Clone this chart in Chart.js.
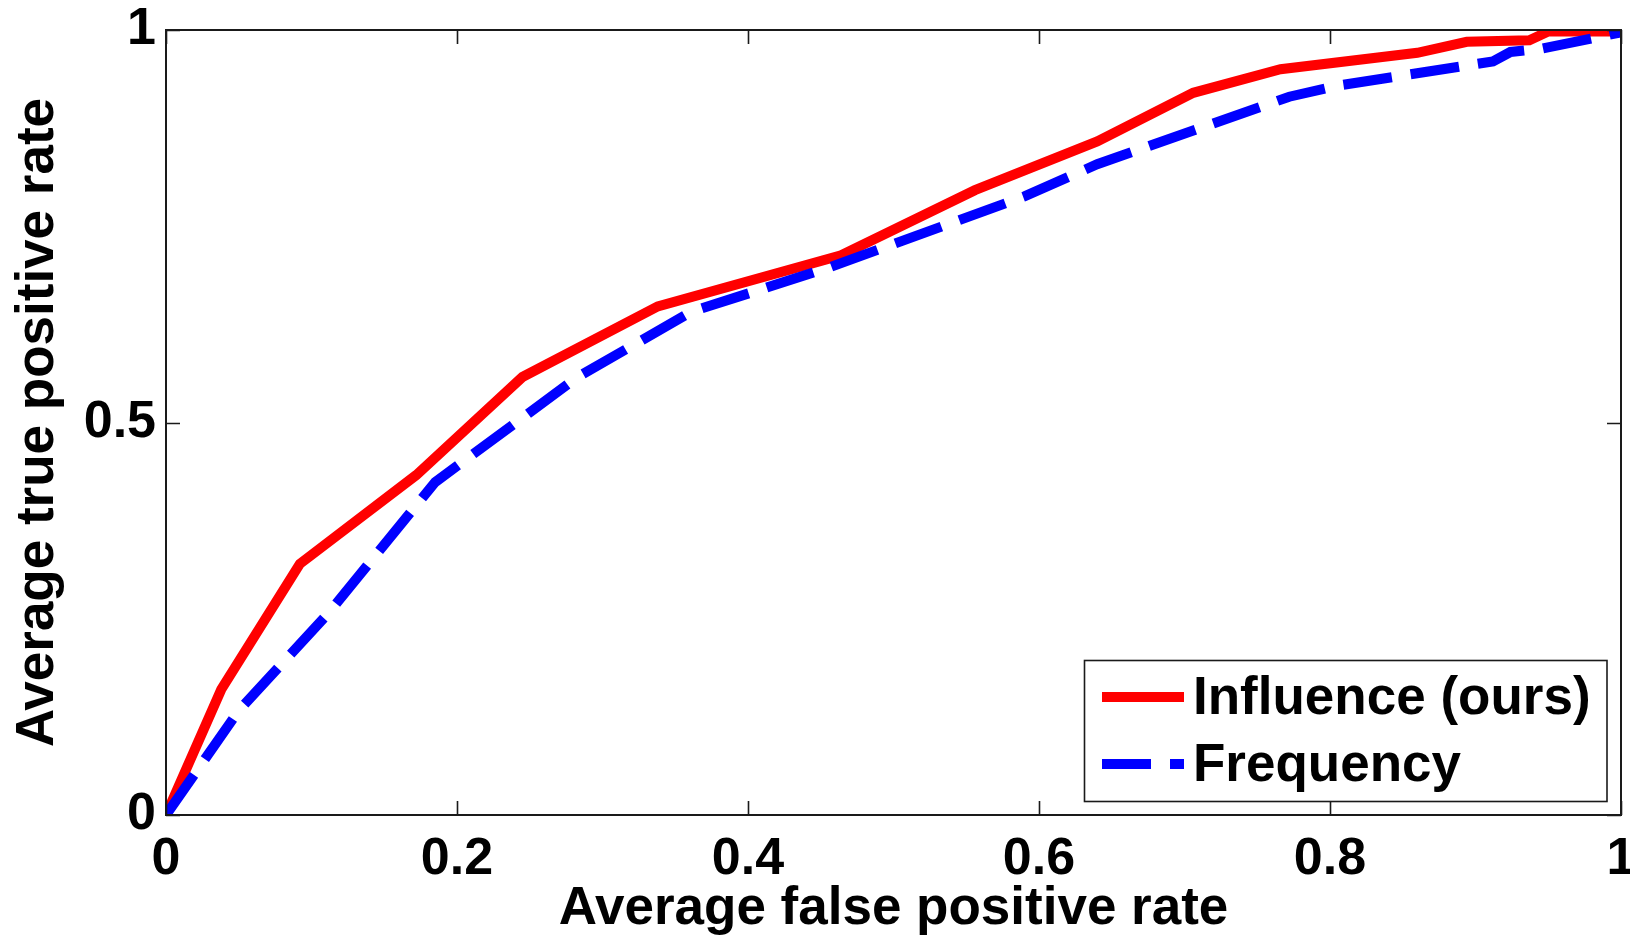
<!DOCTYPE html>
<html>
<head>
<meta charset="utf-8">
<script src="https://cdn.jsdelivr.net/npm/chart.js@4"></script>
<style>
html,body{margin:0;padding:0;background:#ffffff;}
#wrap{position:relative;width:1630px;height:941px;}
canvas{display:block;}
</style>
</head>
<body>
<div id="wrap"><canvas id="c" width="1630" height="941"></canvas></div>
<script>
// ---- data ----
const influenceFPR = [0, 0.038, 0.092, 0.172, 0.245, 0.338, 0.464, 0.556, 0.640, 0.706, 0.766, 0.860, 0.894, 0.937, 0.950, 1.0];
const influenceTPR = [0, 0.160, 0.320, 0.433, 0.558, 0.648, 0.713, 0.796, 0.858, 0.920, 0.950, 0.971, 0.985, 0.987, 0.998, 0.998];
const frequencyFPR = [0, 0.050, 0.112, 0.185, 0.283, 0.361, 0.455, 0.590, 0.640, 0.772, 0.805, 0.912, 0.924, 0.945, 1.0];
const frequencyTPR = [0, 0.133, 0.258, 0.424, 0.558, 0.641, 0.697, 0.788, 0.829, 0.915, 0.929, 0.960, 0.972, 0.976, 0.997];
const seriesLabels = ['Influence (ours)', 'Frequency'];
const seriesColors = ['#ff0000', '#0000ff'];
const xTickValues = [0, 0.2, 0.4, 0.6, 0.8, 1];
const yTickValues = [0, 0.5, 1];
const xTitle = 'Average false positive rate';
const yTitle = 'Average true positive rate';

const FONT = '"Liberation Sans", Arial, Helvetica, sans-serif';
const DASH = [49, 19];
const LINE_W = 10;

function toPoints(xs, ys) { return xs.map((x, i) => ({x: x, y: ys[i]})); }

// axes box + inward tick marks (MATLAB style), drawn through the chart's scales
const boxPlugin = {
  id: 'boxTicks',
  afterDatasetsDraw(chart) {
    const {ctx, chartArea: a, scales} = chart;
    ctx.save();
    ctx.strokeStyle = '#1a1a1a';
    ctx.lineWidth = 1.6;
    ctx.lineCap = 'butt';
    ctx.beginPath();
    const tl = 14;
    xTickValues.forEach(v => {
      const px = Math.round(scales.x.getPixelForValue(v)) + 0.5;
      ctx.moveTo(px, a.bottom); ctx.lineTo(px, a.bottom - tl);
      ctx.moveTo(px, a.top); ctx.lineTo(px, a.top + tl);
    });
    yTickValues.forEach(v => {
      const py = Math.round(scales.y.getPixelForValue(v)) + 0.5;
      ctx.moveTo(a.left, py); ctx.lineTo(a.left + tl, py);
      ctx.moveTo(a.right, py); ctx.lineTo(a.right - tl, py);
    });
    ctx.stroke();
    ctx.lineWidth = 2;
    ctx.strokeRect(a.left, a.top, a.right - a.left, a.bottom - a.top);
    ctx.restore();
  }
};

// legend box in the lower-right corner of the plot area
const legendPlugin = {
  id: 'boxedLegend',
  afterDraw(chart) {
    const {ctx, chartArea: a} = chart;
    const bx = 1084.5, by = 660.5, bw = a.right - 14 - bx, bh = 141;
    ctx.save();
    ctx.fillStyle = '#ffffff';
    ctx.fillRect(bx, by, bw, bh);
    ctx.strokeStyle = '#1a1a1a';
    ctx.lineWidth = 1.6;
    ctx.strokeRect(bx, by, bw, bh);
    const rows = [697, 764];
    chart.data.datasets.forEach((ds, i) => {
      const y = rows[i];
      ctx.beginPath();
      ctx.strokeStyle = ds.borderColor;
      ctx.lineWidth = LINE_W;
      ctx.lineCap = 'butt';
      ctx.setLineDash(ds.borderDash || []);
      ctx.moveTo(1102, y);
      ctx.lineTo(1184, y);
      ctx.stroke();
      ctx.setLineDash([]);
      ctx.fillStyle = '#000000';
      ctx.font = 'bold 53px ' + FONT;
      ctx.textBaseline = 'middle';
      ctx.textAlign = 'left';
      ctx.fillText(ds.label, 1193, y + 2);
    });
    ctx.restore();
  }
};

new Chart(document.getElementById('c'), {
  type: 'scatter',
  data: {
    datasets: [
      {
        label: seriesLabels[0],
        data: toPoints(influenceFPR, influenceTPR),
        showLine: true,
        borderColor: seriesColors[0],
        backgroundColor: seriesColors[0],
        borderWidth: LINE_W,
        borderJoinStyle: 'miter',
        borderCapStyle: 'butt',
        pointRadius: 0,
        pointHoverRadius: 0,
        tension: 0,
        clip: 0,
        order: 2
      },
      {
        label: seriesLabels[1],
        data: toPoints(frequencyFPR, frequencyTPR),
        showLine: true,
        borderColor: seriesColors[1],
        backgroundColor: seriesColors[1],
        borderWidth: LINE_W,
        borderDash: DASH,
        borderJoinStyle: 'miter',
        borderCapStyle: 'butt',
        pointRadius: 0,
        pointHoverRadius: 0,
        tension: 0,
        clip: 0,
        order: 1
      }
    ]
  },
  options: {
    responsive: false,
    devicePixelRatio: 1,
    animation: false,
    events: [],
    layout: {padding: {left: 0, top: 30, right: 9, bottom: 0}},
    plugins: {legend: {display: false}, tooltip: {enabled: false}},
    scales: {
      x: {
        type: 'linear', min: 0, max: 1,
        afterBuildTicks(scale) { scale.ticks = xTickValues.map(v => ({value: v})); },
        afterFit(scale) { scale.height = 126; scale.paddingLeft = 0; scale.paddingRight = 0; },
        grid: {display: false, drawTicks: false},
        border: {display: false},
        ticks: {
          color: '#000000', padding: 13, maxRotation: 0, autoSkip: false,
          font: {family: FONT, size: 52, weight: 'bold'},
          callback: v => String(v)
        },
        title: {
          display: true, text: xTitle, color: '#000000',
          font: {family: FONT, size: 53, weight: 'bold', lineHeight: 1.2},
          padding: {top: 0, bottom: 0}
        }
      },
      y: {
        type: 'linear', min: 0, max: 1,
        afterBuildTicks(scale) { scale.ticks = yTickValues.map(v => ({value: v})); },
        afterFit(scale) { scale.width = 166; scale.paddingTop = 0; scale.paddingBottom = 0; },
        grid: {display: false, drawTicks: false},
        border: {display: false},
        ticks: {
          color: '#000000', padding: 10, autoSkip: false,
          font: {family: FONT, size: 52, weight: 'bold'},
          callback: v => String(v)
        },
        title: {
          display: true, text: yTitle, color: '#000000',
          font: {family: FONT, size: 53, weight: 'bold', lineHeight: 1.2},
          padding: {top: 7, bottom: 0}
        }
      }
    }
  },
  plugins: [boxPlugin, legendPlugin]
});
</script>
</body>
</html>
